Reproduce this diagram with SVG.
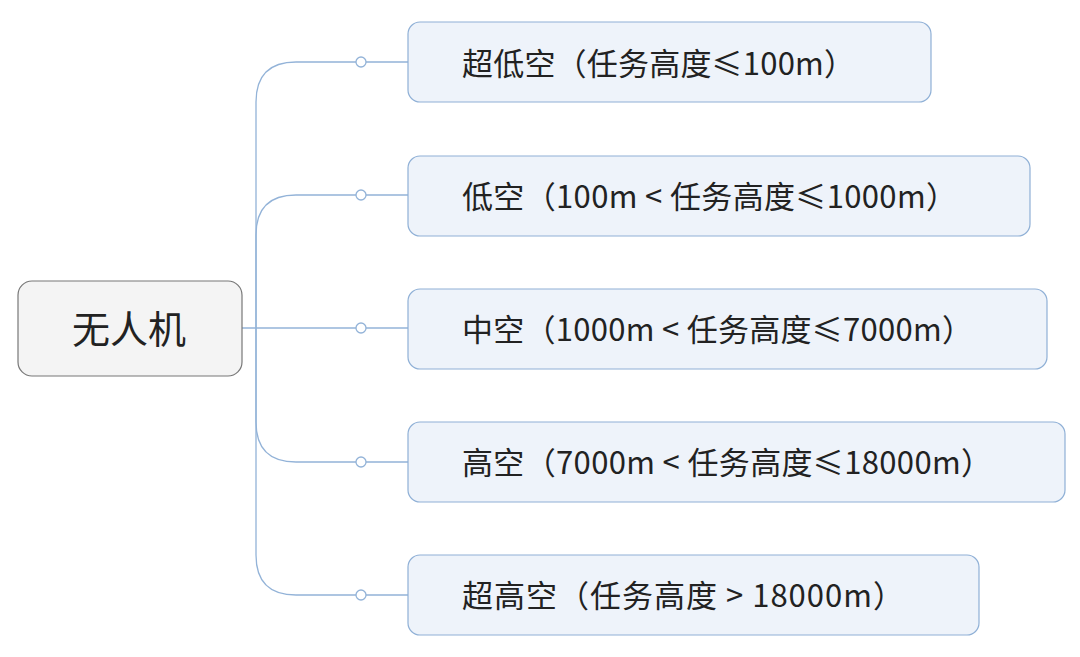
<svg xmlns="http://www.w3.org/2000/svg" width="1080" height="657" viewBox="0 0 1080 657">
<style>
.b{fill:#eef3fa;stroke:#8fb0d6;stroke-width:1.2}
.t{font-family:"Noto Sans CJK SC","Noto Sans",sans-serif;font-size:31px;fill:#222}
.c{fill:none;stroke:#93b3d8;stroke-width:1.3}
.d{fill:#fff;stroke:#93b3d8;stroke-width:1.3}
</style>
<rect width="1080" height="657" fill="#fff"/>
<g id="connectors">
<path class="c" d="M242 328 H408"/>
<path class="c" d="M256 328 V102 Q256 62 296 62 H408"/>
<path class="c" d="M256 328 V235 Q256 195 296 195 H408"/>
<path class="c" d="M256 328 V422 Q256 462 296 462 H408"/>
<path class="c" d="M256 328 V555 Q256 595 296 595 H408"/>
<circle class="d" cx="361" cy="62" r="5"/>
<circle class="d" cx="361" cy="195" r="5"/>
<circle class="d" cx="361" cy="328" r="5"/>
<circle class="d" cx="361" cy="462" r="5"/>
<circle class="d" cx="361" cy="595" r="5"/>
</g>
<g id="root"><rect x="18" y="281" width="224" height="95" rx="14" fill="#f4f4f4" stroke="#777" stroke-width="1.2"/><text x="129" y="343" text-anchor="middle" class="t" style="font-size:38px">无人机</text></g>
<g id="n1"><rect class="b" x="408" y="22" width="523" height="80" rx="12"/><text class="t" x="462" y="75" textLength="393">超低空（任务高度≤100m）</text></g>
<g id="n2"><rect class="b" x="408" y="156" width="622" height="80" rx="12"/><text class="t" x="462" y="208" textLength="495">低空（100m &lt; 任务高度≤1000m）</text></g>
<g id="n3"><rect class="b" x="408" y="289" width="639" height="80" rx="12"/><text class="t" x="462" y="341" textLength="511">中空（1000m &lt; 任务高度≤7000m）</text></g>
<g id="n4"><rect class="b" x="408" y="422" width="657" height="80" rx="12"/><text class="t" x="462" y="474" textLength="530">高空（7000m &lt; 任务高度≤18000m）</text></g>
<g id="n5"><rect class="b" x="408" y="555" width="571" height="80" rx="12"/><text class="t" x="462" y="607" textLength="442">超高空（任务高度 &gt; 18000m）</text></g>
</svg>
